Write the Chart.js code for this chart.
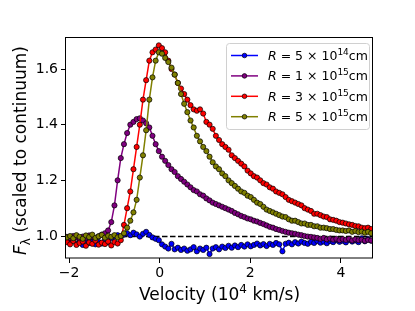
<!DOCTYPE html>
<html>
<head>
<meta charset="utf-8">
<script src="https://cdn.jsdelivr.net/npm/chart.js@4"></script>
<style>
html,body{margin:0;padding:0;background:#fff;}
canvas{display:block;}
</style>
</head>
<body>
<canvas id="c" width="415" height="311"></canvas>
<script>
// ---- data (velocity in 10^4 km/s, flux scaled to continuum) ----
const velocity = [-2.05,-1.98,-1.91,-1.84,-1.77,-1.70,-1.63,-1.56,-1.49,-1.42,-1.35,-1.28,-1.21,-1.14,-1.07,-1.00,-0.93,-0.86,-0.79,-0.72,-0.65,-0.58,-0.51,-0.44,-0.37,-0.30,-0.23,-0.16,-0.09,-0.02,0.05,0.12,0.19,0.26,0.33,0.40,0.47,0.54,0.61,0.68,0.75,0.82,0.89,0.96,1.03,1.10,1.17,1.24,1.31,1.38,1.45,1.52,1.59,1.66,1.73,1.80,1.87,1.94,2.01,2.08,2.15,2.22,2.29,2.36,2.43,2.50,2.57,2.64,2.71,2.78,2.85,2.92,2.99,3.06,3.13,3.20,3.27,3.34,3.41,3.48,3.55,3.62,3.69,3.76,3.83,3.90,3.97,4.04,4.11,4.18,4.25,4.32,4.39,4.46,4.53,4.60,4.67];

const fluxR5e14 = [0.985,0.978,0.990,0.972,0.980,0.968,0.983,0.975,0.988,0.970,0.979,0.973,0.985,0.977,0.992,0.998,1.003,0.997,1.005,1.010,1.003,1.012,1.006,0.998,1.008,1.015,1.004,0.995,0.990,0.985,0.970,0.962,0.955,0.972,0.952,0.958,0.950,0.955,0.947,0.952,0.960,0.945,0.955,0.950,0.958,0.935,0.955,0.960,0.952,0.962,0.957,0.965,0.958,0.966,0.960,0.968,0.962,0.970,0.963,0.968,0.973,0.966,0.971,0.964,0.972,0.968,0.975,0.970,0.945,0.972,0.976,0.970,0.978,0.973,0.980,0.975,0.972,0.979,0.975,0.982,0.976,0.980,0.974,0.982,0.978,0.985,0.979,0.983,0.977,0.986,0.980,0.984,0.978,0.992,0.981,0.990,0.983];

const fluxR1e15 = [0.997,0.993,1.000,0.995,0.990,0.998,0.994,1.002,0.996,0.992,0.999,1.005,1.010,1.020,1.050,1.110,1.200,1.280,1.330,1.370,1.400,1.410,1.420,1.423,1.415,1.405,1.390,1.360,1.330,1.305,1.285,1.270,1.255,1.240,1.230,1.215,1.205,1.195,1.185,1.175,1.165,1.160,1.150,1.145,1.135,1.128,1.120,1.115,1.110,1.105,1.100,1.095,1.090,1.083,1.078,1.072,1.068,1.063,1.060,1.055,1.052,1.047,1.043,1.038,1.033,1.030,1.025,1.022,1.018,1.015,1.012,1.010,1.008,1.005,1.003,1.000,0.998,0.997,0.995,0.993,0.990,0.993,0.988,0.991,0.987,0.990,0.985,0.989,0.986,0.990,0.984,0.988,0.985,0.987,0.983,0.986,0.984];

const fluxR3e15 = [0.978,0.970,0.982,0.968,0.975,0.980,0.965,0.977,0.972,0.983,0.969,0.976,0.971,0.980,0.966,0.978,0.973,0.985,1.040,1.100,1.160,1.240,1.320,1.400,1.490,1.560,1.630,1.660,1.670,1.685,1.675,1.660,1.630,1.600,1.580,1.550,1.530,1.510,1.490,1.470,1.455,1.450,1.455,1.440,1.410,1.400,1.385,1.360,1.345,1.330,1.320,1.310,1.290,1.280,1.270,1.260,1.250,1.235,1.225,1.215,1.210,1.200,1.190,1.185,1.175,1.170,1.160,1.155,1.150,1.140,1.130,1.125,1.120,1.115,1.110,1.100,1.095,1.090,1.080,1.080,1.075,1.070,1.068,1.060,1.058,1.055,1.050,1.048,1.045,1.042,1.040,1.036,1.035,1.030,1.028,1.030,1.025];

const fluxR5e15 = [0.995,1.000,0.992,1.003,0.997,0.990,1.002,0.996,1.005,0.993,0.999,1.004,0.994,1.001,0.997,1.003,0.995,1.000,1.010,1.030,1.055,1.085,1.130,1.210,1.290,1.380,1.490,1.570,1.630,1.660,1.655,1.640,1.625,1.605,1.580,1.550,1.510,1.475,1.445,1.415,1.390,1.360,1.340,1.320,1.305,1.285,1.265,1.250,1.240,1.225,1.215,1.200,1.190,1.180,1.170,1.160,1.155,1.145,1.140,1.130,1.120,1.115,1.105,1.095,1.090,1.085,1.080,1.075,1.070,1.068,1.060,1.055,1.055,1.050,1.045,1.045,1.040,1.040,1.035,1.035,1.030,1.030,1.028,1.025,1.025,1.022,1.020,1.020,1.018,1.020,1.015,1.018,1.014,1.016,1.012,1.015,1.010];

const seriesFlux = [fluxR5e14, fluxR1e15, fluxR3e15, fluxR5e15];
const radiusMantissa = ['5', '1', '3', '5'];
const radiusExponent = ['14', '15', '15', '15'];
const seriesColors = ['#0000ff', '#800080', '#ff0000', '#808000'];

const xTicks = [-2, 0, 2, 4];
const yTicks = [1.0, 1.2, 1.4, 1.6];
const xRange = [-2.07, 4.71];
const yRange = [0.921, 1.715];
const continuumLevel = 1.0;

const FONT = "'DejaVu Sans', Verdana, sans-serif";

const datasets = seriesFlux.map((arr, k) => ({
  label: 'R = ' + radiusMantissa[k] + ' \u00d7 10^' + radiusExponent[k] + 'cm',
  data: velocity.map((v, i) => ({x: v, y: arr[i]})),
  borderColor: seriesColors[k],
  backgroundColor: seriesColors[k],
  pointBackgroundColor: seriesColors[k],
  pointBorderColor: '#000',
  pointBorderWidth: 0.7,
  pointRadius: 2.6,
  borderWidth: 1.5,
  tension: 0,
  order: seriesFlux.length - 1 - k
}));

const decorPlugin = {
  id: 'decor',
  beforeDatasetsDraw(chart) {
    const {ctx, chartArea: a, scales} = chart;
    const y = Math.round(scales.y.getPixelForValue(continuumLevel)) + 0.5;
    ctx.save();
    ctx.beginPath();
    ctx.rect(a.left, a.top, a.right - a.left, a.bottom - a.top);
    ctx.clip();
    ctx.strokeStyle = '#000';
    ctx.lineWidth = 1.5;
    ctx.setLineDash([5.5, 2.5]);
    ctx.beginPath();
    ctx.moveTo(a.left, y);
    ctx.lineTo(a.right, y);
    ctx.stroke();
    ctx.restore();
  },
  afterDraw(chart) {
    const {ctx, chartArea: a} = chart;
    ctx.save();
    // frame
    ctx.strokeStyle = '#000';
    ctx.lineWidth = 1;
    ctx.strokeRect(Math.round(a.left) - 0.5, Math.round(a.top) + 0.5, Math.round(a.right - a.left), Math.round(a.bottom - a.top) - 0.5);

    // x-axis title: Velocity (10^4 km/s)
    ctx.fillStyle = '#000';
    ctx.textBaseline = 'alphabetic';
    const tf = 17, sf = 12;
    const p1 = 'Velocity (10', p2 = '4', p3 = ' km/s)';
    ctx.font = tf + 'px ' + FONT;
    const w1 = ctx.measureText(p1).width, w3 = ctx.measureText(p3).width;
    ctx.font = sf + 'px ' + FONT;
    const w2 = ctx.measureText(p2).width;
    const cx = (a.left + a.right) / 2;
    let x0 = cx - (w1 + w2 + w3) / 2;
    const by = 300;
    ctx.font = tf + 'px ' + FONT;
    ctx.textAlign = 'left';
    ctx.fillText(p1, x0, by);
    ctx.font = sf + 'px ' + FONT;
    ctx.fillText(p2, x0 + w1, by - 7);
    ctx.font = tf + 'px ' + FONT;
    ctx.fillText(p3, x0 + w1 + w2, by);

    // y-axis title: F_lambda (scaled to continuum)
    ctx.save();
    const cy = (a.top + a.bottom) / 2 + 3;
    ctx.translate(26, cy);
    ctx.rotate(-Math.PI / 2);
    const q1 = 'F', q2 = '\u03bb', q3 = ' (scaled to continuum)';
    ctx.font = 'italic ' + tf + 'px ' + FONT;
    const v1 = ctx.measureText(q1).width;
    ctx.font = sf + 'px ' + FONT;
    const v2 = ctx.measureText(q2).width;
    ctx.font = tf + 'px ' + FONT;
    const v3 = ctx.measureText(q3).width;
    let s0 = -(v1 + v2 + v3) / 2;
    ctx.font = 'italic ' + tf + 'px ' + FONT;
    ctx.fillText(q1, s0, 0);
    ctx.font = sf + 'px ' + FONT;
    ctx.fillText(q2, s0 + v1, 4);
    ctx.font = tf + 'px ' + FONT;
    ctx.fillText(q3, s0 + v1 + v2, 0);
    ctx.restore();

    // legend
    const lx = 226, ly = 43, lw = 143, lh = 86;
    ctx.beginPath();
    if (ctx.roundRect) ctx.roundRect(lx + 0.5, ly + 0.5, lw, lh, 3); else ctx.rect(lx + 0.5, ly + 0.5, lw, lh);
    ctx.fillStyle = 'rgba(255,255,255,0.8)';
    ctx.fill();
    ctx.strokeStyle = '#d0d0d0';
    ctx.lineWidth = 1;
    ctx.stroke();
    const lf = 12.5, lsf = 9;
    for (let k = 0; k < seriesFlux.length; k++) {
      const ey = 55.5 + k * 20.4;
      ctx.strokeStyle = seriesColors[k];
      ctx.lineWidth = 1.5;
      ctx.beginPath();
      ctx.moveTo(231, ey);
      ctx.lineTo(258, ey);
      ctx.stroke();
      ctx.beginPath();
      ctx.arc(244.5, ey, 2.3, 0, Math.PI * 2);
      ctx.fillStyle = seriesColors[k];
      ctx.fill();
      ctx.strokeStyle = '#000';
      ctx.lineWidth = 0.7;
      ctx.stroke();
      ctx.fillStyle = '#000';
      const tb = ey + 4.5;
      let tx = 268;
      ctx.font = 'italic ' + lf + 'px ' + FONT;
      ctx.fillText('R', tx, tb);
      tx += ctx.measureText('R').width;
      ctx.font = lf + 'px ' + FONT;
      const mid = ' = ' + radiusMantissa[k] + ' \u00d7 10';
      ctx.fillText(mid, tx, tb);
      tx += ctx.measureText(mid).width;
      ctx.font = lsf + 'px ' + FONT;
      ctx.fillText(radiusExponent[k], tx, tb - 5);
      tx += ctx.measureText(radiusExponent[k]).width;
      ctx.font = lf + 'px ' + FONT;
      ctx.fillText('cm', tx, tb);
    }
    ctx.restore();
  }
};

new Chart(document.getElementById('c'), {
  type: 'line',
  data: {datasets},
  options: {
    responsive: false,
    animation: false,
    devicePixelRatio: 1,
    layout: {padding: {top: 37, right: 42, left: 0, bottom: 0}},
    plugins: {legend: {display: false}, tooltip: {enabled: false}, title: {display: false}},
    scales: {
      x: {
        type: 'linear',
        min: xRange[0], max: xRange[1],
        afterBuildTicks: s => { s.ticks = xTicks.map(v => ({value: v})); },
        afterFit: s => { s.height = 53; },
        grid: {display: true, drawOnChartArea: false, drawTicks: true, tickLength: 5, color: '#000', tickWidth: 1},
        border: {display: false},
        ticks: {
          color: '#000', padding: 2, maxRotation: 0,
          font: {family: FONT, size: 14},
          callback: v => (v < 0 ? '\u2212' + Math.abs(v) : String(v))
        }
      },
      y: {
        type: 'linear',
        min: yRange[0], max: yRange[1],
        afterBuildTicks: s => { s.ticks = yTicks.map(v => ({value: v})); },
        afterFit: s => { s.width = 66; },
        grid: {display: true, drawOnChartArea: false, drawTicks: true, tickLength: 5, color: '#000', tickWidth: 1},
        border: {display: false},
        ticks: {
          color: '#000', padding: 3,
          font: {family: FONT, size: 14},
          callback: v => Number(v).toFixed(1)
        }
      }
    }
  },
  plugins: [decorPlugin]
});
</script>
</body>
</html>
